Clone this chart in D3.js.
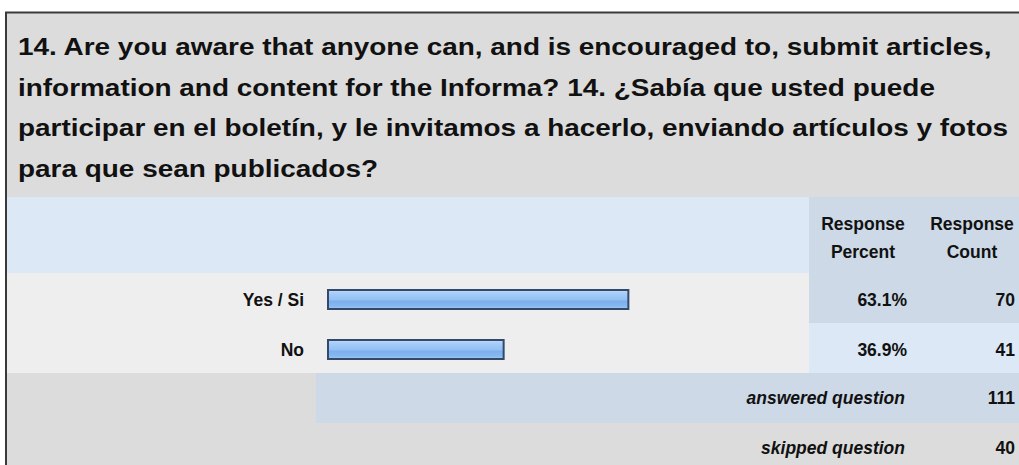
<!DOCTYPE html>
<html>
<head>
<meta charset="utf-8">
<script src="https://cdn.jsdelivr.net/npm/d3@7/dist/d3.min.js"></script>
<style>
  html, body { margin: 0; padding: 0; background: #ffffff; }
  svg { display: block; }
  text { font-family: "Liberation Sans", Arial, Helvetica, sans-serif; font-weight: bold; fill: #111; }
</style>
</head>
<body>
<svg id="chart" width="1019" height="465"></svg>
<script>
// Survey question 14 — response summary
const titleLines = [
  "14. Are you aware that anyone can, and is encouraged to, submit articles,",
  "information and content for the Informa? 14. ¿Sabía que usted puede",
  "participar en el boletín, y le invitamos a hacerlo, enviando artículos y fotos",
  "para que sean publicados?"
];
const answers = ["Yes / Si", "No"];
const percents = [63.1, 36.9];
const counts = [70, 41];
const headerPercent = ["Response", "Percent"];
const headerCount = ["Response", "Count"];
const summaryLabels = ["answered question", "skipped question"];
const summaryValues = [111, 40];

const svg = d3.select("#chart");
const W = 1019;

// layout
const frameLeft = 7, frameTop = 13;
const headerBottom = 197;
const colHeadBottom = 273;
const rowH = 50;
const valueColX = 809;
const pctRight = 907, cntRight = 1015;
const labelRight = 304;
const summaryLeft = 316;

// gradient for the bars
const defs = svg.append("defs");
const grad = defs.append("linearGradient").attr("id", "barGrad")
  .attr("x1", 0).attr("y1", 0).attr("x2", 0).attr("y2", 1);
[["0%", "#c2defc"], ["15%", "#a9cef9"], ["50%", "#93c0f5"], ["60%", "#7eb0ec"], ["85%", "#86b8f0"], ["100%", "#a6cbf6"]]
  .forEach(([o, c]) => grad.append("stop").attr("offset", o).attr("stop-color", c));

// outer frame and title area
svg.append("rect").attr("x", frameLeft).attr("y", frameTop).attr("width", W).attr("height", 465)
  .attr("fill", "#dcdcdc");
svg.append("line").attr("x1", 6).attr("x2", 6).attr("y1", 12).attr("y2", 465)
  .attr("stroke", "#3a3a3a").attr("stroke-width", 2);
svg.append("line").attr("x1", 5).attr("x2", W).attr("y1", 12.5).attr("y2", 12.5)
  .attr("stroke", "#3a3a3a").attr("stroke-width", 2);

// title, set in a wide bold face
svg.append("g").attr("transform", "translate(18,0) scale(1.14,1)")
  .selectAll("text").data(titleLines).join("text")
  .attr("x", 0)
  .attr("y", (d, i) => 55 + i * 40.7)
  .style("font-size", "24.5px")
  .text(d => d);

// column header row
svg.append("rect").attr("x", frameLeft).attr("y", headerBottom).attr("width", W - frameLeft).attr("height", colHeadBottom - headerBottom)
  .attr("fill", "#dce8f5");
svg.append("rect").attr("x", valueColX).attr("y", headerBottom).attr("width", W - valueColX).attr("height", colHeadBottom - headerBottom)
  .attr("fill", "#cdd9e6");

const headG = svg.append("g").style("font-size", "17.5px").attr("text-anchor", "middle");
headG.selectAll("text.hp").data(headerPercent).join("text").attr("class", "hp")
  .attr("x", 863).attr("y", (d, i) => 230 + i * 28).text(d => d);
headG.selectAll("text.hc").data(headerCount).join("text").attr("class", "hc")
  .attr("x", 972).attr("y", (d, i) => 230 + i * 28).text(d => d);

// answer rows
const y = d3.scaleBand().domain(answers).range([colHeadBottom, colHeadBottom + rowH * answers.length]);
const x = d3.scaleLinear().domain([0, 100]).range([328, 804]);
const rows = answers.map((a, i) => ({ label: a, pct: percents[i], count: counts[i], i }));

const rowG = svg.append("g").selectAll("g").data(rows).join("g")
  .attr("transform", d => `translate(0,${y(d.label)})`);

rowG.append("rect").attr("x", frameLeft).attr("width", valueColX - frameLeft).attr("height", y.bandwidth())
  .attr("fill", "#eeeeee");
rowG.append("rect").attr("x", valueColX).attr("width", W - valueColX).attr("height", y.bandwidth())
  .attr("fill", d => d.i % 2 === 0 ? "#cdd9e6" : "#dce8f5");

rowG.append("rect")
  .attr("x", x(0))
  .attr("y", 17)
  .attr("width", d => x(d.pct) - x(0))
  .attr("height", 19)
  .attr("fill", "url(#barGrad)")
  .attr("stroke", "#34496a")
  .attr("stroke-width", 2);

rowG.append("text").attr("x", labelRight).attr("y", 33).attr("text-anchor", "end")
  .style("font-size", "17.5px").text(d => d.label);
rowG.append("text").attr("x", pctRight).attr("y", 33).attr("text-anchor", "end")
  .style("font-size", "17.5px").text(d => d.pct.toFixed(1) + "%");
rowG.append("text").attr("x", cntRight).attr("y", 33).attr("text-anchor", "end")
  .style("font-size", "17.5px").text(d => d.count);

// summary rows
const sumTop = colHeadBottom + rowH * answers.length;
const sumG = svg.append("g").selectAll("g").data(summaryLabels.map((l, i) => ({ l, v: summaryValues[i], i }))).join("g")
  .attr("transform", d => `translate(0,${sumTop + d.i * rowH})`);

sumG.filter(d => d.i === 0).append("rect").attr("x", summaryLeft).attr("width", W - summaryLeft).attr("height", rowH)
  .attr("fill", "#cdd9e6");
sumG.append("text").attr("x", pctRight - 2).attr("y", 31).attr("text-anchor", "end")
  .style("font-size", "17.5px").style("font-style", "italic").text(d => d.l);
sumG.append("text").attr("x", cntRight).attr("y", 31).attr("text-anchor", "end")
  .style("font-size", "17.5px").text(d => d.v);
</script>
</body>
</html>
